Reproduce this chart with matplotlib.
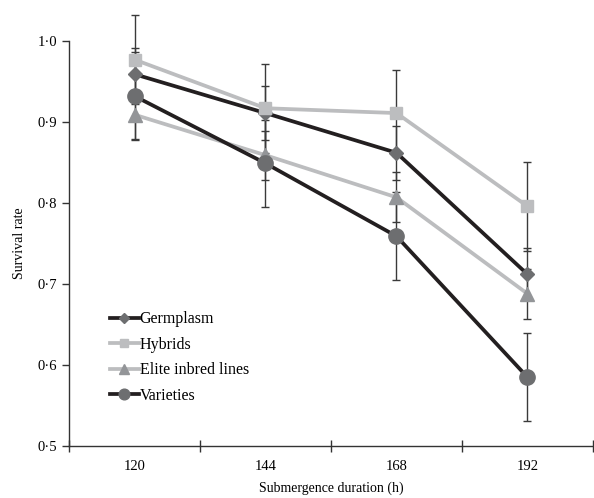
import matplotlib
matplotlib.use("Agg")
from matplotlib import pyplot as plt

plt.rcParams['font.family'] = ['Liberation Serif', 'DejaVu Serif']

durations = ["120", "144", "168", "192"]
germplasm = [0.959, 0.911, 0.862, 0.712]
hybrids = [0.977, 0.917, 0.911, 0.796]
elite = [0.909, 0.859, 0.807, 0.688]
varieties = [0.932, 0.849, 0.759, 0.585]
err_germplasm = [0.032, 0.033, 0.033, 0.032]
err_hybrids = [0.055, 0.055, 0.053, 0.055]
err_elite = [0.030, 0.030, 0.031, 0.031]
err_varieties = [0.054, 0.054, 0.054, 0.054]

dark = "#231f20"
light = "#bcbdbf"
series = [
    ("Germplasm", germplasm, err_germplasm, dark, "D", "#6d6e70", 7.5),
    ("Hybrids", hybrids, err_hybrids, light, "s", light, 8),
    ("Elite inbred lines", elite, err_elite, light, "^", "#939598", 9.5),
    ("Varieties", varieties, err_varieties, dark, "o", "#6d6e70", 11),
]

fig = plt.figure(figsize=(5.94, 4.98), dpi=100)
ax = fig.add_axes([0.1162, 0.1044, 0.882, 0.8133])
x = list(range(len(durations)))

for name, vals, errs, lc, mk, mc, ms in series:
    ax.errorbar(x, vals, yerr=errs, fmt="none", ecolor="#3a3a3a", elinewidth=1.0,
                capsize=3, capthick=1.0, zorder=2, clip_on=False)
for name, vals, errs, lc, mk, mc, ms in series:
    ax.plot(x, vals, color=lc, lw=2.7, marker=mk, markersize=ms,
            markerfacecolor=mc, markeredgecolor=mc, label=name, zorder=3, clip_on=False)

ax.set_xlim(-0.5, 3.5)
ax.set_ylim(0.5, 1.0)
ax.set_xticks([-0.5, 0.5, 1.5, 2.5, 3.5])
ax.set_xticklabels([])
ax.set_xticks(x, minor=True)
ax.set_xticklabels(durations, minor=True, fontsize=10.5)
ax.tick_params(axis="x", which="major", direction="inout", length=8, width=1, color="#333333")
ax.tick_params(axis="x", which="minor", length=0, pad=10)
yt = [0.5, 0.6, 0.7, 0.8, 0.9, 1.0]
ax.set_yticks(yt)
ax.set_yticklabels([f"{v:.1f}".replace(".", "\u00b7") for v in yt], fontsize=10.5)
ax.tick_params(axis="y", direction="out", length=5, width=1, color="#333333")
for s in ["top", "right"]:
    ax.spines[s].set_visible(False)
for s in ["left", "bottom"]:
    ax.spines[s].set_color("#333333")
    ax.spines[s].set_linewidth(1.0)

ax.set_xlabel("Submergence duration (h)", fontsize=10, labelpad=6)
ax.set_ylabel("Survival rate", fontsize=10, labelpad=8)

ax.legend(loc="lower left", bbox_to_anchor=(0.066, 0.088), frameon=False, fontsize=11.5,
          handlelength=1.8, handletextpad=0.05, labelspacing=0.6, borderaxespad=0,
          markerscale=0.7)

fig.savefig("out.png", dpi=100)
